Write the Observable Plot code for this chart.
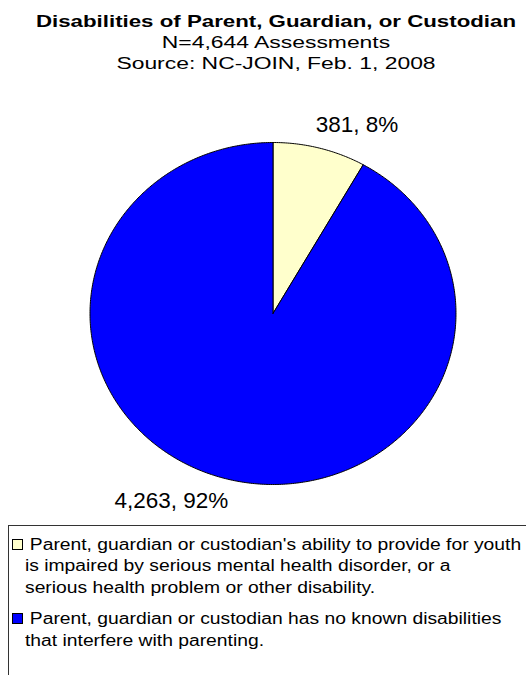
<!DOCTYPE html>
<html>
<head>
<meta charset="utf-8">
<script src="https://cdn.jsdelivr.net/npm/d3@7"></script>
<script src="https://cdn.jsdelivr.net/npm/@observablehq/plot@0.6"></script>
<style>
  html, body { margin: 0; padding: 0; background: #fff; overflow: hidden; width: 526px; height: 675px; }
  body { position: relative; font-family: "Liberation Sans", Arial, sans-serif; color: #000; }
  #title { position: absolute; left: 13px; top: 10.5px; width: 526px; text-align: center; line-height: 21px; white-space: nowrap; }
  #title div { transform-origin: 50% 50%; }
  #title .t1 { font-weight: bold; font-size: 17px; transform: scaleX(1.31); }
  #title .t2, #title .t3 { font-size: 16px; transform: scaleX(1.43); }
  #chart { position: absolute; left: 0; top: 90px; }
  #legend { position: absolute; left: 8px; top: 525px; width: 540px; height: 200px; border: 1px solid #333; box-sizing: border-box; }
  .item { position: relative; padding-left: 16px; font-size: 16px; line-height: 21.4px; white-space: nowrap; }
  .item .sw { position: absolute; left: 3px; top: 5px; width: 9px; height: 9px; border: 1px solid #000; }
  .item .ln { transform: scaleX(1.205); transform-origin: 0 50%; }
  .item .ln1 { padding-left: 4px; }
</style>
</head>
<body>
<div id="title"></div>
<div id="chart"></div>
<div id="legend"></div>
<script>
// ---- data ----
const titleLines = ["Disabilities of Parent, Guardian, or Custodian", "N=4,644 Assessments", "Source: NC-JOIN, Feb. 1, 2008"];
const categories = [
  "Parent, guardian or custodian's ability to provide for youth is impaired by serious mental health disorder, or a serious health problem or other disability.",
  "Parent, guardian or custodian has no known disabilities that interfere with parenting."
];
const legendLines = [
  ["Parent, guardian or custodian's ability to provide for youth", "is impaired by serious mental health disorder, or a", "serious health problem or other disability."],
  ["Parent, guardian or custodian has no known disabilities", "that interfere with parenting."]
];
const values = [381, 4263];
const colors = ["#FFFFCC", "#0000FF"];

// ---- title ----
const titleEl = document.getElementById("title");
titleLines.forEach((t, i) => {
  const d = document.createElement("div");
  d.className = "t" + (i + 1);
  d.textContent = t;
  titleEl.appendChild(d);
});

// ---- pie geometry from data ----
const total = d3.sum(values);
const arcs = d3.pie().sort(null).value(d => d)(values);
const slices = arcs.map((a, i) => {
  const n = Math.max(2, Math.ceil((a.endAngle - a.startAngle) / 0.01));
  const pts = [{x: 0, y: 0}];
  for (let k = 0; k <= n; k++) {
    const t = a.startAngle + (a.endAngle - a.startAngle) * k / n;
    pts.push({x: Math.sin(t), y: Math.cos(t)});
  }
  pts.push({x: 0, y: 0});
  return {pts, color: colors[i]};
});
const labels = arcs.map((a, i) => {
  const m = (a.startAngle + a.endAngle) / 2;
  return {
    x: Math.sin(m), y: Math.cos(m),
    right: Math.sin(m) >= 0, top: Math.cos(m) >= 0,
    text: d3.format(",")(values[i]) + ", " + Math.round(values[i] / total * 100) + "%"
  };
});

const plot = Plot.plot({
  width: 526,
  height: 430,
  margin: 0,
  x: {domain: [-1, 1], range: [89.5, 455.5], axis: null},
  y: {domain: [-1, 1], range: [394, 52], axis: null},
  style: {fontFamily: "'Liberation Sans', Arial, sans-serif", background: "white"},
  marks: [
    ...slices.map(s => Plot.line(s.pts, {x: "x", y: "y", fill: s.color, stroke: "#000", strokeWidth: 1, strokeLinejoin: "miter", curve: "linear"})),
    Plot.text(labels.filter(d => d.right && d.top), {x: "x", y: "y", text: "text", textAnchor: "start", lineAnchor: "middle", dx: -4, dy: -23, fontSize: 22.5, fill: "#000"}),
    Plot.text(labels.filter(d => !d.right && !d.top), {x: "x", y: "y", text: "text", textAnchor: "end", lineAnchor: "middle", dx: 2, dy: 21.5, fontSize: 22.5, fill: "#000"})
  ]
});
document.getElementById("chart").appendChild(plot);

// ---- legend ----
const legendEl = document.getElementById("legend");
legendLines.forEach((lines, i) => {
  const item = document.createElement("div");
  item.className = "item";
  item.style.marginTop = i === 0 ? "8px" : "10px";
  item.title = categories[i];
  const sw = document.createElement("div");
  sw.className = "sw";
  sw.style.background = colors[i];
  item.appendChild(sw);
  lines.forEach((l, j) => {
    const d = document.createElement("div");
    d.className = j === 0 ? "ln ln1" : "ln";
    d.textContent = l;
    item.appendChild(d);
  });
  legendEl.appendChild(item);
});
</script>
</body>
</html>
